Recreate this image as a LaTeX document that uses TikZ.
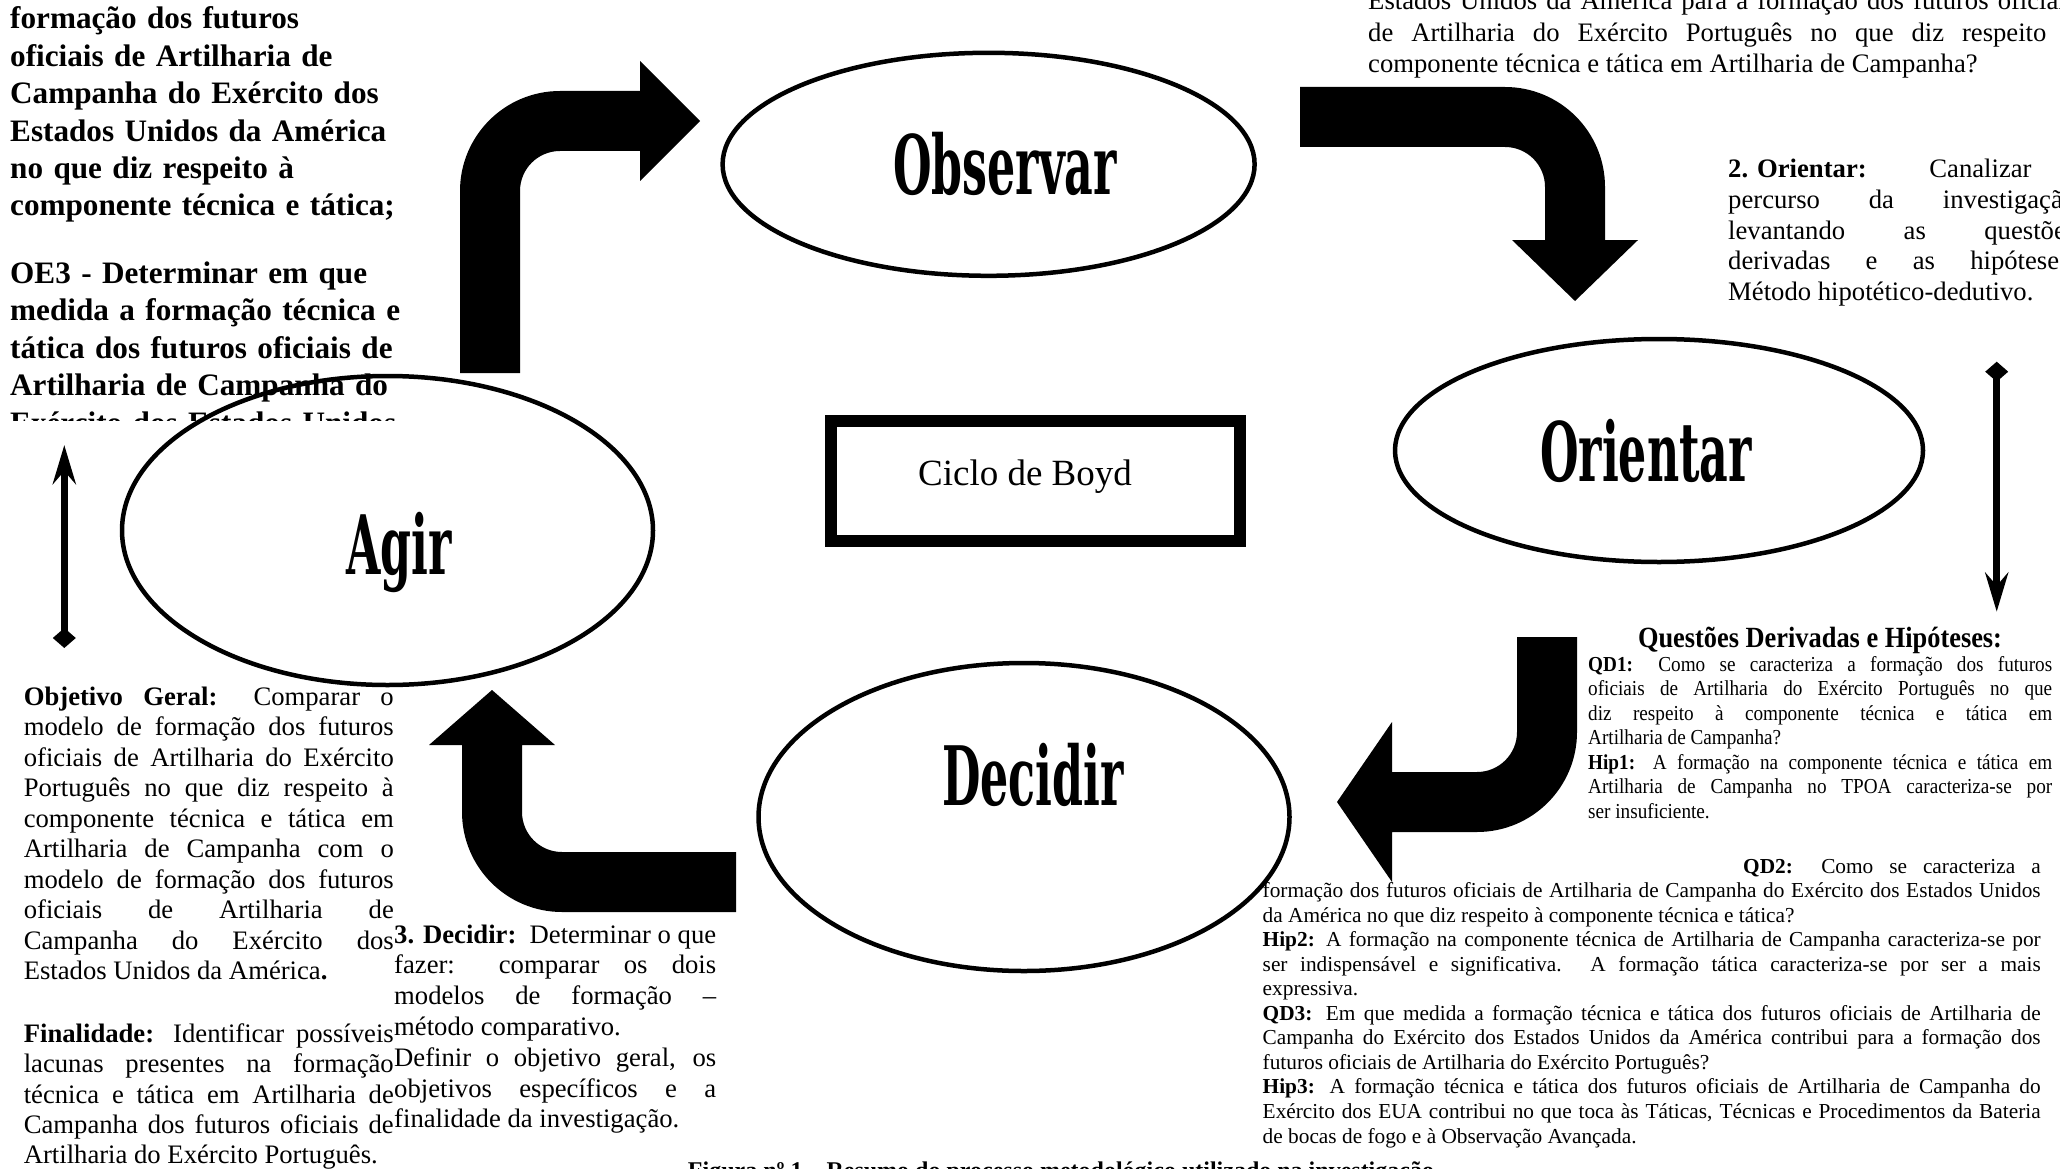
\documentclass[tikz,border=0pt]{standalone}
\usepackage{fontspec}
\setmainfont{Liberation Serif}
\newfontfamily\qfont{Liberation Serif}[FakeStretch=0.9]
\newfontfamily\titlefont{DejaVu Serif}[FakeStretch=0.54]
\usetikzlibrary{shapes.geometric,arrows.meta}
\tikzset{
  oval/.style={ellipse, draw, line width=4.5pt, fill=white, inner sep=0pt},
  lbl/.style={font=\titlefont\bfseries\fontsize{82}{82}\selectfont, anchor=base, inner sep=0pt},
  blk/.style={fill=black, draw=none},
  para/.style={anchor=base west, inner sep=0pt, align=justify},
  boldblock/.style={anchor=base west, inner sep=0pt, align=left, text width=430pt,
    font=\bfseries\fontsize{31.2}{37.4}\selectfont},
  vline/.style={line width=7pt, {Diamond[length=20pt,width=23pt]}-{Stealth[length=39pt,width=23pt,inset=13pt]}},
}
\begin{document}
\begin{tikzpicture}[x=1pt,y=-1pt]
\useasboundingbox (0,0) rectangle (2060,1169);
\clip (0,0) rectangle (2060,1169);
\hbadness=10000 \tolerance=10000
% ellipses
\node[oval, minimum width=532pt, minimum height=223pt] (obs) at (988.6,164.3) {};
\node[oval, minimum width=528pt, minimum height=223pt] (ori) at (1659,450.5) {};
\node[oval, minimum width=531pt, minimum height=309pt] (agi) at (387.5,530.5) {};
\node[oval, minimum width=531pt, minimum height=308pt] (dec) at (1024,817) {};
\node[lbl] (obsL) at (1005,195) {Observar};
\node[lbl] (oriL) at (1646,481) {Orientar};
\node[lbl] (agiL) at (399,574) {Agir};
\node[lbl] (decL) at (1033,805) {Decidir};
% Ciclo de Boyd box
\node[draw, line width=12pt, minimum width=409pt, minimum height=120pt, inner sep=0pt] (boyd) at (1035.5,481) {};
\node[anchor=base, inner sep=0pt, font=\fontsize{37}{42}\selectfont] (boydL) at (1025,485) {Ciclo de Boyd};
% block arrows
\fill[blk] (460,373) -- (460,191) .. controls (460,135.8) and (504.8,91) .. (560,91) -- (640,91) -- (640,61) -- (700,121) -- (640,181) -- (640,151) -- (560,151) .. controls (537.9,151) and (520,168.9) .. (520,191) -- (520,373) -- cycle;
\fill[blk] (1300,87) -- (1505,87) .. controls (1560.2,87) and (1605,131.8) .. (1605,187) -- (1605,240) -- (1638,240) -- (1575,301) -- (1512,240) -- (1545,240) -- (1545,187) .. controls (1545,164.9) and (1527.1,147) .. (1505,147) -- (1300,147) -- cycle;
\fill[blk] (1577,637) -- (1577,732) .. controls (1577,787.2) and (1532.2,832) .. (1477,832) -- (1392,832) -- (1392,882) -- (1337,802) -- (1392,722) -- (1392,772) -- (1477,772) .. controls (1499.1,772) and (1517,754.1) .. (1517,732) -- (1517,637) -- cycle;
\fill[blk] (736,852) -- (562,852) .. controls (539.9,852) and (522,834.1) .. (522,812) -- (522,745) -- (555,745) -- (492,690) -- (429,745) -- (462,745) -- (462,812) .. controls (462,867.2) and (506.8,912) .. (562,912) -- (736,912) -- cycle;
% thin arrows
\coordinate (rtop) at (1996.7,361.7);
\coordinate (rbot) at (1996.7,611.7);
\coordinate (lbot) at (64.3,648);
\coordinate (ltop) at (64.3,445);
\draw[vline] (rtop) -- (rbot);
\draw[vline] (lbot) -- (ltop);
% top-left bold text
\begin{scope}
\clip (0,0) rectangle (430,420);
\node[boldblock] (oe2) at (10,29) {formação dos futuros\\oficiais de Artilharia de\\Campanha do Exército dos\\Estados Unidos da América\\no que diz respeito à\\componente técnica e tática;};
\node[boldblock] (oe3) at (10,283.5) {OE3 - Determinar em que\\medida a formação técnica e\\tática dos futuros oficiais de\\Artilharia de Campanha do\\Exército dos Estados Unidos};
\end{scope}
% top-right text
\node[para, text width=708pt, font=\fontsize{26.67}{31.5}\selectfont] (qc) at (1368,10) {Estados Unidos da América para a formação dos futuros oficiais\linebreak de Artilharia do Exército Português no que diz respeito à\linebreak componente técnica e tática em Artilharia de Campanha?};
\node[para, text width=348pt, font=\fontsize{26.67}{30.6}\selectfont] (orT) at (1728,178) {\mbox{\textbf{2. Orientar:}}\ \ Canalizar o\linebreak percurso da investigação\linebreak levantando as questões\linebreak derivadas e as hipóteses.\linebreak Método hipotético-dedutivo.};
% questions
\node[anchor=base, inner sep=0pt, font=\qfont\bfseries\fontsize{29.3}{32}\selectfont] (qdT) at (1820,647) {Questões Derivadas e Hipóteses:};
\node[para, text width=464pt, font=\qfont\fontsize{21.33}{24.55}\selectfont] (qd1) at (1588,671) {\textbf{QD1:} Como se caracteriza a formação dos futuros\linebreak oficiais de Artilharia do Exército Português no que\linebreak diz respeito à componente técnica e tática em\linebreak Artilharia de Campanha?\par \textbf{Hip1:} A formação na componente técnica e tática em\linebreak Artilharia de Campanha no TPOA caracteriza-se por\linebreak ser insuficiente.};
\node[para, text width=778pt, font=\fontsize{21.33}{24.55}\selectfont] (qd2) at (1262.5,873) {\hspace*{480.5pt}\textbf{QD2:} Como se caracteriza a\linebreak formação dos futuros oficiais de Artilharia de Campanha do Exército dos Estados Unidos\linebreak da América no que diz respeito à componente técnica e tática?\par \textbf{Hip2:} A formação na componente técnica de Artilharia de Campanha caracteriza-se por\linebreak ser indispensável e significativa. A formação tática caracteriza-se por ser a mais\linebreak expressiva.\par \textbf{QD3:} Em que medida a formação técnica e tática dos futuros oficiais de Artilharia de\linebreak Campanha do Exército dos Estados Unidos da América contribui para a formação dos\linebreak futuros oficiais de Artilharia do Exército Português?\par \textbf{Hip3:} A formação técnica e tática dos futuros oficiais de Artilharia de Campanha do\linebreak Exército dos EUA contribui no que toca às Táticas, Técnicas e Procedimentos da Bateria\linebreak de bocas de fogo e à Observação Avançada.};
% left texts
\node[para, text width=370pt, font=\fontsize{26.67}{30.5}\selectfont] (og) at (23.6,705) {\textbf{Objetivo Geral:} Comparar o\linebreak modelo de formação dos futuros\linebreak oficiais de Artilharia do Exército\linebreak Português no que diz respeito à\linebreak componente técnica e tática em\linebreak Artilharia de Campanha com o\linebreak modelo de formação dos futuros\linebreak oficiais de Artilharia de\linebreak Campanha do Exército dos\linebreak Estados Unidos da América\textbf{.}};
\node[para, text width=370pt, font=\fontsize{26.67}{30.3}\selectfont] (fin) at (23.6,1042.6) {\textbf{Finalidade:} Identificar possíveis\linebreak lacunas presentes na formação\linebreak técnica e tática em Artilharia de\linebreak Campanha dos futuros oficiais de\linebreak Artilharia do Exército Português.};
\node[para, text width=322pt, font=\fontsize{26.67}{30.8}\selectfont] (dcT) at (394,943) {\mbox{\textbf{3. Decidir:}}\ \ Determinar o que\linebreak fazer: comparar os dois\linebreak modelos de formação –\linebreak método comparativo.\par Definir o objetivo geral, os\linebreak objetivos específicos e a\linebreak finalidade da investigação.};
% caption
\node[anchor=base, inner sep=0pt, font=\bfseries\fontsize{24}{28}\selectfont] (cap) at (1061,1178) {Figura nº 1 – Resumo do processo metodológico utilizado na investigação};
\end{tikzpicture}
\end{document}
